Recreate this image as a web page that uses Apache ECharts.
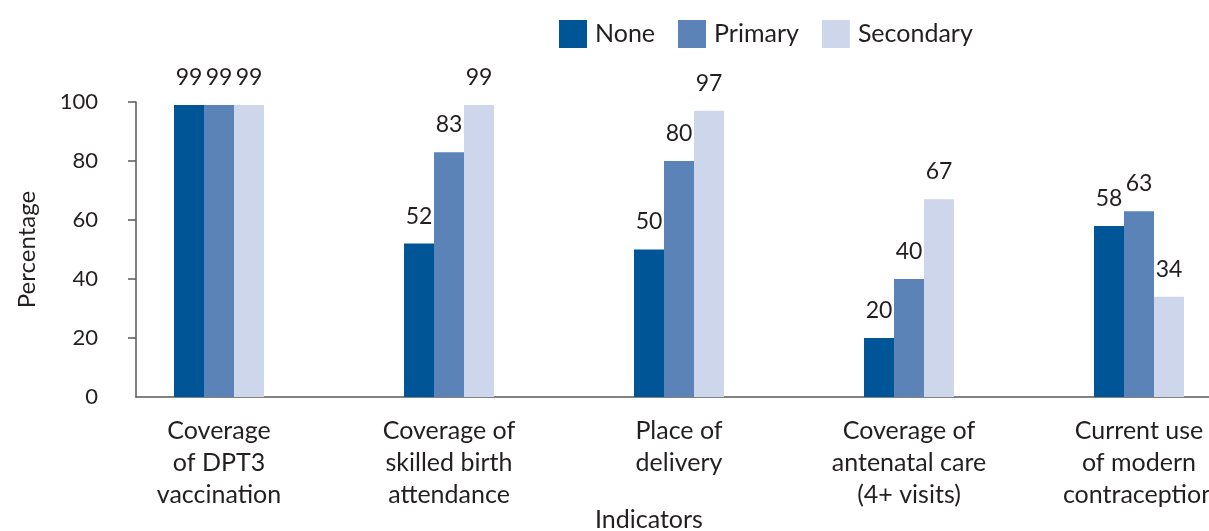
<!DOCTYPE html>
<html>
<head>
<meta charset="utf-8">
<script src="https://cdn.jsdelivr.net/npm/echarts@6/dist/echarts.min.js"></script>
<style>
  html, body { margin: 0; padding: 0; background: #fff; }
  #myChart { width: 1209px; height: 531px; }
</style>
</head>
<body>
<div id="myChart"></div>
<script>
// data
const categories = [
  "Coverage\nof DPT3\nvaccination",
  "Coverage of\nskilled birth\nattendance",
  "Place of\ndelivery",
  "Coverage of\nantenatal care\n(4+ visits)",
  "Current use\nof modern\ncontraception"
];
const noneValues = [99, 52, 50, 20, 58];
const primaryValues = [99, 83, 80, 40, 63];
const secondaryValues = [99, 99, 97, 67, 34];
const yTicks = [0, 20, 40, 60, 80, 100];

const font = "Lato";
const textColor = "#231f20";

function barSeries(name, data, color) {
  return {
    name: name,
    type: "bar",
    xAxisIndex: 0,
    yAxisIndex: 0,
    data: data,
    barWidth: 30,
    barGap: "0%",
    itemStyle: { color: color },
    label: {
      show: true,
      position: "top",
      distance: 16,
      fontFamily: font,
      fontSize: 23,
      color: textColor
    }
  };
}

let myChart = echarts.init(document.getElementById("myChart"));
let option = {
  animation: false,
  textStyle: { fontFamily: font },
  title: {
    text: "Indicators",
    left: 595,
    top: 507,
    padding: 0,
    textStyle: { fontFamily: font, fontSize: 25, fontWeight: "normal", color: textColor }
  },
  legend: {
    left: 559,
    top: 20,
    padding: 0,
    itemWidth: 28,
    itemHeight: 28,
    itemGap: 23,
    icon: "rect",
    textStyle: { fontFamily: font, fontSize: 25, color: textColor, padding: [2, 0, 0, 3] }
  },
  grid: [
    // bars: category bands of 230px, first band starts left of the y axis line
    { left: 104, width: 1150, top: 102, bottom: 134, outerBoundsMode: "none", containLabel: false },
    // axes frame
    { left: 136, right: 0, top: 102, bottom: 134, outerBoundsMode: "none", containLabel: false }
  ],
  xAxis: [
    {
      type: "category",
      gridIndex: 0,
      data: categories,
      axisLine: { show: false },
      axisTick: { show: false },
      axisLabel: {
        fontFamily: font,
        fontSize: 25,
        lineHeight: 32,
        color: textColor,
        margin: 18,
        interval: 0
      }
    },
    {
      type: "value",
      gridIndex: 1,
      min: 0,
      max: 1,
      axisLine: { show: true, lineStyle: { color: "#595959", width: 1.5 } },
      axisTick: { show: false },
      axisLabel: { show: false },
      splitLine: { show: false }
    }
  ],
  yAxis: [
    {
      type: "value",
      gridIndex: 0,
      min: 0,
      max: 100,
      interval: 20,
      show: false
    },
    {
      type: "value",
      gridIndex: 1,
      min: yTicks[0],
      max: yTicks[yTicks.length - 1],
      interval: 20,
      name: "Percentage",
      nameLocation: "middle",
      nameGap: 97,
      nameTextStyle: { fontFamily: font, fontSize: 24, color: textColor },
      axisLine: { show: true, lineStyle: { color: "#595959", width: 1.5 } },
      axisTick: {
        show: true,
        length: 8,
        customValues: yTicks.slice(1),
        lineStyle: { color: "#595959", width: 1.5 }
      },
      axisLabel: { fontFamily: font, fontSize: 22, color: textColor, margin: 38 },
      splitLine: { show: false }
    }
  ],
  series: [
    barSeries("None", noneValues, "#005596"),
    barSeries("Primary", primaryValues, "#5b83b7"),
    barSeries("Secondary", secondaryValues, "#cdd6ea")
  ]
};
myChart.setOption(option);
</script>
</body>
</html>
